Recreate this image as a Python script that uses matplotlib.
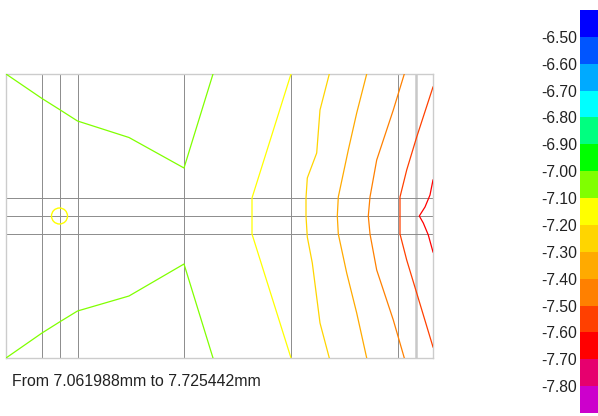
import matplotlib
matplotlib.use("Agg")
import matplotlib.pyplot as plt
from matplotlib.colors import ListedColormap, BoundaryNorm
from matplotlib.patches import Circle

plt.rcParams['font.family'] = ['Liberation Sans', 'DejaVu Sans']

# colour bands, lowest first
band_colors = ["#cc00cc", "#e6006e", "#ff0000", "#ff4000", "#ff8000", "#ffaa00",
               "#ffd500", "#ffff00", "#80ff00", "#00ff00", "#00ff80", "#00ffff",
               "#00aaff", "#0055ff", "#0000ff"]
band_bounds = [-7.9, -7.8, -7.7, -7.6, -7.5, -7.4, -7.3, -7.2, -7.1, -7.0,
               -6.9, -6.8, -6.7, -6.6, -6.5, -6.4]
bar_ticks = [-6.5, -6.6, -6.7, -6.8, -6.9, -7.0, -7.1, -7.2, -7.3, -7.4,
             -7.5, -7.6, -7.7, -7.8]

# mesh lines of the section
mesh_x = [36, 53.5, 71.5, 178, 285, 392]
mesh_x_light = [410]
mesh_y = [18, 0, -18]
x_min, x_max = 0, 427
y_min, y_max = -142, 142

# probe marker
probe_x, probe_y, probe_r = 53.5, 0, 8

# iso-lines: level, list of (x, y) polylines
iso_levels = [-7.1, -7.2, -7.3, -7.4, -7.5, -7.6, -7.7]
iso_x = [
    [[0, 36, 53.5, 71.5, 123, 178, 207],
     [0, 36, 53.5, 71.5, 123, 178, 207]],
    [[285, 246, 246, 285]],
    [[323.3, 314, 310.7, 301.3, 300, 300, 301.3, 306.3, 314, 323.3]],
    [[360.7, 350.7, 342.3, 332.3, 331.3, 332.3, 340.7, 350.7, 360.7]],
    [[398.3, 387.3, 370.7, 364, 362.3, 364, 370.7, 387.3, 398.3]],
    [[427, 410.7, 400.7, 394, 394, 394, 400.7, 410.7, 427]],
    [[427, 424, 419, 413.3, 417.3, 422.3, 427]],
]
iso_y = [
    [[142, 117.5, 106.5, 95, 78.5, 48, 142],
     [-142, -117, -106, -95, -80, -48, -142]],
    [[142, 18, -18, -142]],
    [[142, 106, 63, 38, 18, 0, -21, -47, -107, -142]],
    [[142, 103, 66, 19, 0, -18, -57, -97, -142]],
    [[142, 106, 56, 19, 0, -18, -54, -104, -142]],
    [[129, 79, 46, 19, 0, -18, -44, -77, -131]],
    [[36, 21, 9, 0, -7, -19, -36]],
]

range_text = "From 7.061988mm to 7.725442mm"

W, H = 598, 416
fig = plt.figure(figsize=(W / 100, H / 100), dpi=100)
ax = fig.add_axes([6 / W, (H - 358) / H, 427 / W, 284 / H])

cmap = ListedColormap(band_colors)
norm = BoundaryNorm(band_bounds, cmap.N)

for xv in mesh_x:
    ax.axvline(xv, color="#8c8c8c", lw=0.7, zorder=1)
for xv in mesh_x_light:
    ax.axvline(xv, color="#c8c8c8", lw=1.8, zorder=1)
for yv in mesh_y:
    ax.axhline(yv, color="#8c8c8c", lw=0.7, zorder=1)

for lev, xs_list, ys_list in zip(iso_levels, iso_x, iso_y):
    col = cmap(norm(lev + 0.05))
    for xs, ys in zip(xs_list, ys_list):
        ax.plot(xs, ys, color=col, lw=0.9, zorder=3)

ax.add_patch(Circle((probe_x, probe_y), probe_r, fill=False,
                    edgecolor="#ffff00", lw=1.0, zorder=4))

ax.set_xlim(x_min, x_max)
ax.set_ylim(y_min, y_max)
ax.set_xticks([])
ax.set_yticks([])
for sp in ax.spines.values():
    sp.set_color("#cccccc")
    sp.set_linewidth(1.0)

# colour bar
cax = fig.add_axes([580 / W, 3 / H, 18 / W, 403 / H])
sm = matplotlib.cm.ScalarMappable(norm=norm, cmap=cmap)
cb = fig.colorbar(sm, cax=cax, ticks=bar_ticks, spacing="uniform")
cb.outline.set_visible(False)
cax.minorticks_off()
cax.yaxis.set_ticks_position("left")
cax.yaxis.set_label_position("left")
cax.tick_params(which="both", length=0, pad=2, labelsize=11.3,
                labelcolor="#222222")
cb.set_ticklabels([f"{t:.2f}" for t in bar_ticks])

fig.text(12 / W, 1 - 382 / H, range_text, fontsize=11.4, color="#222222",
         va="center", ha="left")

fig.savefig("out.png", dpi=100)
